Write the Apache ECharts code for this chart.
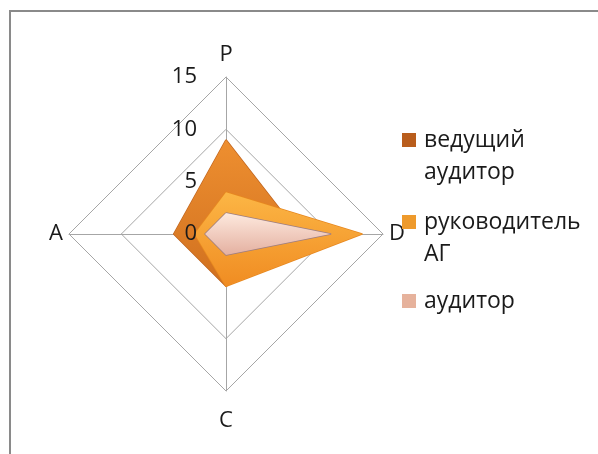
<!DOCTYPE html>
<html>
<head>
<meta charset="utf-8">
<script src="https://cdn.jsdelivr.net/npm/echarts@6/dist/echarts.min.js"></script>
<style>
html,body{margin:0;padding:0;background:#fff;}
#chart{width:598px;height:454px;}
</style>
</head>
<body>
<div id="chart"></div>
<script>
// Axes in drawing order (counter-clockwise from the top)
var categories = ['P', 'A', 'C', 'D'];
var seriesNames = ['ведущий аудитор', 'руководитель АГ', 'аудитор'];
var leadAuditor = [9, 5, 5, 7];
var groupHead = [4, 3, 5, 13];
var auditor = [2, 2, 2, 10];
var axisMax = 15;
var tickStep = 5;

var FONT = 'Open Sans';
var chart = echarts.init(document.getElementById('chart'));

function grad(c1, c2) {
  return new echarts.graphic.LinearGradient(0, 0, 0, 1, [
    {offset: 0, color: c1}, {offset: 1, color: c2}
  ]);
}

var iconColors = ['#b95d1c', '#ee9a2c', '#e6b29c'];
var center = [226, 234];
var radius = 157;

function legendFor(i, top, multiline) {
  return {
    orient: 'vertical',
    left: 402,
    top: top,
    padding: 0,
    itemWidth: 14,
    itemHeight: 14,
    icon: 'rect',
    selectedMode: false,
    data: [{name: seriesNames[i], itemStyle: {color: iconColors[i]}}],
    formatter: function (n) { return multiline ? '\n' + n.replace(' ', '\n') : n; },
    textStyle: {
      fontFamily: FONT, fontSize: 23, color: '#1a1a1a', lineHeight: 32,
      padding: [0, 0, 0, 3]
    }
  };
}

chart.setOption({
  backgroundColor: '#fff',
  animation: false,
  graphic: [{
    type: 'rect', silent: true, z: -10,
    shape: {x: 10, y: 11, width: 600, height: 500},
    style: {fill: 'none', stroke: '#8a8a8a', lineWidth: 2}
  }],
  legend: [
    legendFor(0, 92, true),
    legendFor(1, 174, true),
    legendFor(2, 285, false)
  ],
  radar: {
    center: center,
    radius: radius,
    startAngle: 90,
    shape: 'polygon',
    splitNumber: axisMax / tickStep,
    indicator: categories.map(function (c) { return {name: c, min: 0, max: axisMax}; }),
    nameGap: 6,
    axisName: {color: '#1a1a1a', fontFamily: FONT, fontSize: 22, padding: [13, 0, 5, 0]},
    axisLine: {lineStyle: {color: '#a6a6a6', width: 1}},
    splitLine: {lineStyle: {color: '#a6a6a6', width: 1}},
    splitArea: {show: false}
  },
  polar: {center: center, radius: radius},
  angleAxis: {show: false, startAngle: 90, min: 0, max: 360},
  radiusAxis: {
    min: 0, max: axisMax, interval: tickStep,
    axisLine: {show: false}, axisTick: {show: false}, splitLine: {show: false},
    axisLabel: {show: true, margin: 29, fontFamily: FONT, fontSize: 22, color: '#1a1a1a'},
    z: 10
  },
  series: [{
    type: 'radar',
    symbol: 'none',
    data: [
      {
        name: seriesNames[0], value: leadAuditor,
        itemStyle: {color: iconColors[0]},
        lineStyle: {color: '#c2661f', width: 1.5},
        areaStyle: {color: grad('#ee8f30', '#d0701f'), opacity: 1}
      },
      {
        name: seriesNames[1], value: groupHead,
        itemStyle: {color: iconColors[1]},
        lineStyle: {color: '#e7881f', width: 1.5},
        areaStyle: {color: grad('#fcb645', '#f08c22'), opacity: 1}
      },
      {
        name: seriesNames[2], value: auditor,
        itemStyle: {color: iconColors[2]},
        lineStyle: {color: '#9c7c80', width: 1.5},
        areaStyle: {color: grad('#fde9de', '#e4b0a0'), opacity: 1}
      }
    ]
  }]
});
</script>
</body>
</html>
